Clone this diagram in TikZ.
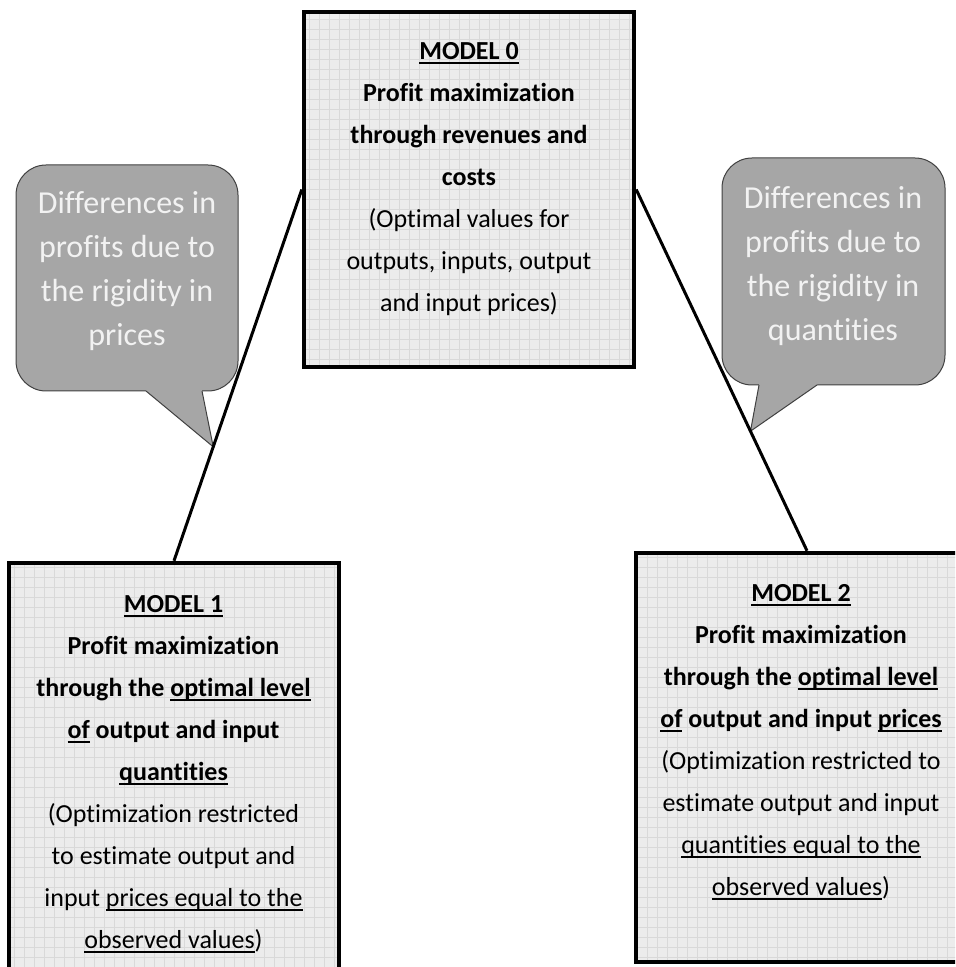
\documentclass[tikz,border=0pt]{standalone}
\usepackage{fontspec}
\setmainfont{Carlito}[Ligatures=NoCommon]
\usetikzlibrary{positioning,calc}
\newsavebox{\ulbox}
\newcommand{\uln}[1]{\sbox{\ulbox}{#1}\rlap{\rule[-2.4pt]{\wd\ulbox}{0.9pt}}\usebox{\ulbox}}
\definecolor{boxfill}{HTML}{ECECEC}
\definecolor{boxgrid}{HTML}{D9D9D9}
\definecolor{bubblefill}{HTML}{A6A6A6}
\definecolor{bubbleline}{HTML}{404040}
\definecolor{bubbletext}{HTML}{F2F2F2}
\tikzset{
  model/.style={draw,line width=2.2pt,fill=boxfill,inner sep=0pt,
    path picture={\draw[boxgrid,line width=0.4pt] (path picture bounding box.south west)
      grid[step=5pt] (path picture bounding box.north east);}},
  modeltext/.style={align=center,font=\fontsize{13}{21}\selectfont},
  bubble/.style={fill=bubblefill,draw=bubbleline,line width=0.5pt,rounded corners=15pt,inner sep=0pt},
  bubbletext/.style={align=center,text=bubbletext,font=\fontsize{16}{22}\selectfont},
  conn/.style={line width=1.5pt}
}

\begin{document}
\begin{tikzpicture}[x=0.5pt,y=-0.5pt]
                   \useasboundingbox (0,0) rectangle (955,967);
                   \clip (0,0) rectangle (955,967);
                   \node[model,minimum width=165pt,minimum height=177.5pt] (m_0) at (469,189.5) {};
                   \node[model,minimum width=165pt,minimum height=204.5pt] (m_1) at (174,767.5) {};
                   \node[model,minimum width=171pt,minimum height=204.5pt] (m_2) at (807,757.5) {};
                   \node[modeltext] (t_0) at (469,179) {\textbf{\uln{MODEL 0}}\\
                     \textbf{Profit maximization}\\ \textbf{through revenues and}\\ \textbf{costs}\\
                     (Optimal values for\\ outputs, inputs, output\\ and input prices)};
                   \node[modeltext] (t_1) at (173.5,774) {\textbf{\uln{MODEL 1}}\\
                     \textbf{Profit maximization}\\ \textbf{through the \uln{optimal level}}\\
                     \textbf{\uln{of} output and input}\\ \textbf{\uln{quantities}}\\
                     (Optimization restricted\\ to estimate output and\\
                     input \uln{prices equal to the}\\ \uln{observed values})};
                   \node[modeltext] (t_2) at (801,742) {\textbf{\uln{MODEL 2}}\\
                     \textbf{Profit maximization}\\ \textbf{through the \uln{optimal level}}\\
                     \textbf{\uln{of} output and input \uln{prices}}\\
                     (Optimization restricted to\\ estimate output and input\\
                     \uln{quantities equal to the}\\ \uln{observed values})};
                   % callouts
                   \coordinate (tip_1) at ($(m_0.west)!0.693!(m_1.north)$);
                   \coordinate (tip_2) at ($(m_0.east)!0.669!(m_2.north)$);
                   \node[bubble,minimum width=111pt,minimum height=113pt] (b_1) at (127,278) {};
                   \node[bubble,minimum width=111.5pt,minimum height=113.5pt] (b_2) at (833.5,271.5) {};
                   \fill[bubblefill] (146,391) -- (tip_1) -- (202,391) -- (202,386) -- (146,386) -- cycle;
                   \draw[bubbleline,line width=0.5pt] (146,391) -- (tip_1) -- (202,391);
                   \fill[bubblefill] (759,385) -- (tip_2) -- (817,385) -- (817,380) -- (759,380) -- cycle;
                   \draw[bubbleline,line width=0.5pt] (759,385) -- (tip_2) -- (817,385);
                   \node[bubbletext] (c_1) at (127,271) {Differences in\\ profits due to\\ the rigidity in\\ prices};
                   \node[bubbletext] (c_2) at (833,266) {Differences in\\ profits due to\\ the rigidity in\\ quantities};
                    \path[conn]
                    (m_0.west) edge (m_1.north)
                    (m_0.east) edge (m_2.north);
                \end{tikzpicture}
\end{document}
